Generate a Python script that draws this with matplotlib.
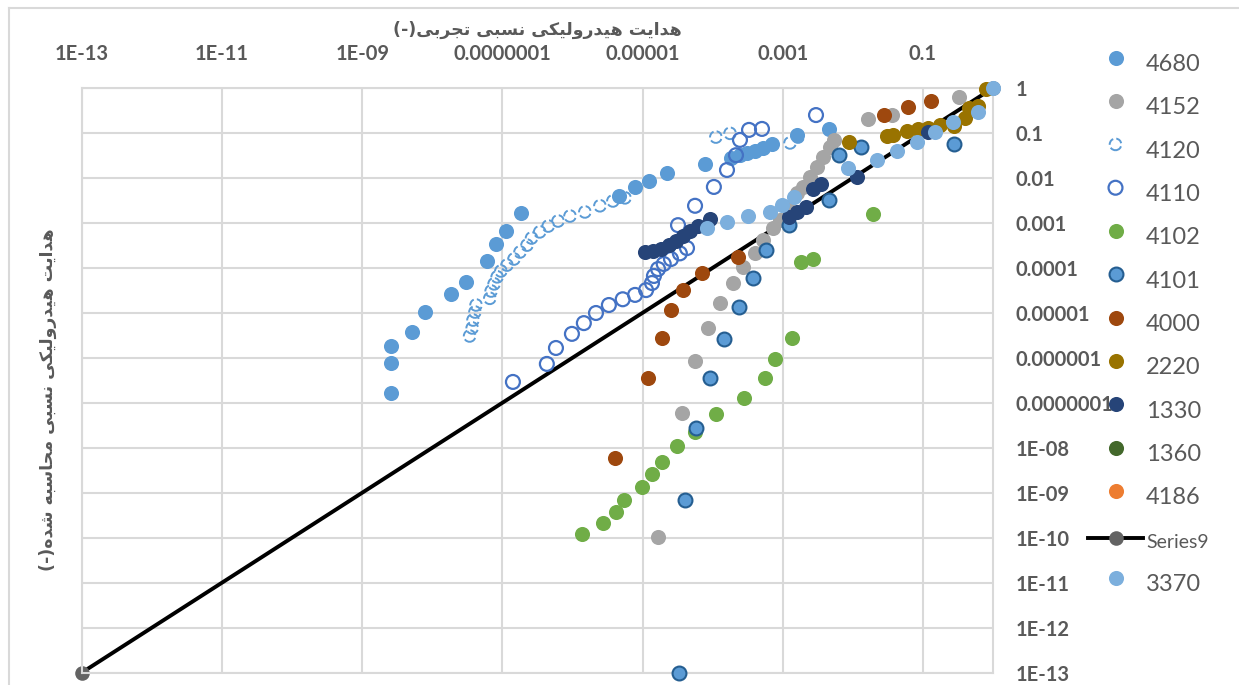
import matplotlib
matplotlib.use("Agg")
import matplotlib.pyplot as plt
from matplotlib.lines import Line2D

x_4680 = [2.6e-9, 2.6e-9, 2.6e-9, 5.1e-9, 7.85e-9, 1.84e-8, 3.0e-8, 6.0e-8, 8.1e-8, 1.12e-7, 1.84e-7,
          4.6e-6, 7.8e-6, 1.23e-5, 2.2e-5, 7.8e-5, 1.82e-4, 2.45e-4, 3.1e-4, 4.0e-4, 5.2e-4, 7.0e-4,
          1.6e-3, 4.6e-3]
y_4680 = [1.65e-7, 7.6e-7, 1.83e-6, 3.75e-6, 1.04e-5, 2.6e-5, 4.8e-5, 1.42e-4, 3.4e-4, 6.6e-4, 1.66e-3,
          3.96e-3, 6.3e-3, 8.5e-3, 1.28e-2, 2.04e-2, 2.8e-2, 3.2e-2, 3.6e-2, 4.0e-2, 4.6e-2, 5.7e-2,
          9.0e-2, 0.123]

x_4152 = [1.66e-5, 3.65e-5, 5.6e-5, 8.6e-5, 1.27e-4, 1.95e-4, 2.7e-4, 4.0e-4, 5.2e-4, 7.2e-4, 9.1e-4,
          1.15e-3, 1.6e-3, 1.94e-3, 2.44e-3, 3.1e-3, 3.75e-3, 4.7e-3, 5.4e-3, 1.64e-2, 3.6e-2, 0.327]
y_4152 = [1.03e-10, 5.9e-8, 8.5e-7, 4.6e-6, 1.65e-5, 4.6e-5, 1.04e-4, 2.1e-4, 4.15e-4, 7.7e-4, 1.16e-3,
          2.26e-3, 4.6e-3, 6.3e-3, 1.05e-2, 1.75e-2, 2.9e-2, 4.9e-2, 7.0e-2, 0.205, 0.25, 0.63]

x_4120 = [3.4e-8, 3.7e-8, 3.8e-8, 4.05e-8, 4.2e-8, 6.6e-8, 6.9e-8, 7.6e-8, 8.4e-8, 9.5e-8, 1.16e-7,
          1.46e-7, 1.78e-7, 2.24e-7, 2.6e-7, 3.4e-7, 4.5e-7, 6.2e-7, 9.2e-7, 1.5e-6, 2.46e-6, 3.77e-6,
          5.6e-6, 1.11e-4, 1.77e-4, 1.27e-3, 1.65e-3]
y_4120 = [3.05e-6, 4.6e-6, 6.9e-6, 1.04e-5, 1.49e-5, 2.1e-5, 3.05e-5, 4.4e-5, 6.3e-5, 8.5e-5, 1.15e-4,
          1.57e-4, 2.25e-4, 3.2e-4, 4.6e-4, 6.3e-4, 8.5e-4, 1.1e-3, 1.42e-3, 1.75e-3, 2.4e-3, 3.07e-3,
          3.6e-3, 8.1e-2, 9.8e-2, 6.0e-2, 8.1e-2]

x_4110 = [1.41e-7, 4.3e-7, 5.8e-7, 9.8e-7, 1.45e-6, 2.16e-6, 3.3e-6, 5.2e-6, 7.8e-6, 1.12e-5, 1.36e-5,
          1.45e-5, 1.66e-5, 2.0e-5, 2.54e-5, 3.4e-5, 4.3e-5, 3.2e-5, 5.6e-5, 1.04e-4, 1.6e-4, 2.15e-4,
          2.45e-4, 3.3e-4, 5.05e-4, 2.98e-3]
y_4110 = [2.9e-7, 7.3e-7, 1.65e-6, 3.4e-6, 5.9e-6, 9.9e-6, 1.49e-5, 2.0e-5, 2.5e-5, 3.2e-5, 4.6e-5,
          6.6e-5, 9.4e-5, 1.22e-4, 1.57e-4, 2.1e-4, 2.75e-4, 8.9e-4, 2.4e-3, 6.3e-3, 1.5e-2, 3.2e-2,
          7.0e-2, 0.117, 0.123, 0.25]

x_4102 = [1.36e-6, 2.7e-6, 4.2e-6, 5.4e-6, 9.8e-6, 1.36e-5, 1.9e-5, 3.1e-5, 5.6e-5, 1.11e-4, 2.8e-4,
          5.6e-4, 7.7e-4, 1.35e-3, 1.82e-3, 2.7e-3, 1.94e-2]
y_4102 = [1.2e-10, 2.1e-10, 3.7e-10, 6.9e-10, 1.33e-9, 2.6e-9, 4.8e-9, 1.09e-8, 2.2e-8, 5.6e-8, 1.27e-7,
          3.5e-7, 9.4e-7, 2.75e-6, 1.35e-4, 1.57e-4, 1.58e-3]

x_4101 = [3.3e-5, 4.0e-5, 5.8e-5, 9.2e-5, 1.45e-4, 2.37e-4, 3.76e-4, 5.8e-4, 1.22e-3, 4.6e-3, 6.3e-3,
          1.3e-2, 0.277]
y_4101 = [1.0e-13, 6.9e-10, 2.7e-8, 3.5e-7, 2.6e-6, 1.35e-5, 5.9e-5, 2.5e-4, 8.9e-4, 3.2e-3, 3.2e-2,
          4.9e-2, 5.7e-2]

x_4000 = [4.0e-6, 1.19e-5, 1.9e-5, 2.54e-5, 3.77e-5, 7.0e-5, 2.3e-4, 2.8e-2, 6.1e-2, 0.13]
y_4000 = [5.9e-9, 3.5e-7, 2.75e-6, 1.15e-5, 3.2e-5, 7.7e-5, 1.74e-4, 0.25, 0.38, 0.515]

x_2220 = [8.8e-3, 3.1e-2, 3.7e-2, 5.9e-2, 8.5e-2, 0.118, 0.175, 0.277, 0.4, 0.45, 0.61, 0.79]
y_2220 = [6.3e-2, 8.5e-2, 9.0e-2, 0.111, 0.123, 0.129, 0.151, 0.143, 0.216, 0.36, 0.4, 0.95]

x_1330 = [1.08e-5, 1.41e-5, 1.83e-5, 2.38e-5, 3.0e-5, 3.77e-5, 4.75e-5, 6.2e-5, 9.2e-5, 1.22e-3, 1.6e-3,
          2.14e-3, 2.7e-3, 3.5e-3, 1.15e-2, 0.118]
y_1330 = [2.25e-4, 2.37e-4, 2.6e-4, 3.2e-4, 3.95e-4, 5.1e-4, 6.6e-4, 8.5e-4, 1.22e-3, 1.35e-3, 1.75e-3,
          2.26e-3, 5.7e-3, 7.3e-3, 1.05e-2, 0.105]

# legend-only series (no visible points)
x_1360, y_1360 = [], []
x_4186, y_4186 = [], []

# 1:1 line
x_series9 = [1e-13, 1.0]
y_series9 = [1e-13, 1.0]

x_3370 = [8.3e-5, 1.6e-4, 3.2e-4, 6.6e-4, 9.8e-4, 1.45e-3, 8.5e-3, 2.2e-2, 4.3e-2, 8.2e-2, 0.148, 0.27,
          0.61, 1.0]
y_3370 = [7.7e-4, 1.05e-3, 1.42e-3, 1.75e-3, 2.5e-3, 3.8e-3, 1.66e-2, 2.5e-2, 4.0e-2, 6.3e-2, 0.105,
          0.176, 0.293, 1.0]

x_ticks = [1e-13, 1e-11, 1e-9, 1e-7, 1e-5, 1e-3, 1e-1]
x_ticklabels = ["1E-13", "1E-11", "1E-09", "0.0000001", "0.00001", "0.001", "0.1"]
y_ticks = [1e-13, 1e-12, 1e-11, 1e-10, 1e-9, 1e-8, 1e-7, 1e-6, 1e-5, 1e-4, 1e-3, 1e-2, 1e-1, 1]
y_ticklabels = ["1E-13", "1E-12", "1E-11", "1E-10", "1E-09", "1E-08", "0.0000001", "0.000001",
                "0.00001", "0.0001", "0.001", "0.01", "0.1", "1"]

title_top = "هدایت هیدرولیکی نسبی تجربی(-)"
title_left = "هدایت هیدرولیکی نسبی محاسبه شده(-)"

# ---- poor man's Arabic shaping (matplotlib has no shaping engine) ----
FORMS = {
    "\u0627": ("\uFE8D", "\uFE8E", None, None),
    "\u0628": ("\uFE8F", "\uFE90", "\uFE91", "\uFE92"),
    "\u062A": ("\uFE95", "\uFE96", "\uFE97", "\uFE98"),
    "\u062C": ("\uFE9D", "\uFE9E", "\uFE9F", "\uFEA0"),
    "\u062D": ("\uFEA1", "\uFEA2", "\uFEA3", "\uFEA4"),
    "\u062F": ("\uFEA9", "\uFEAA", None, None),
    "\u0631": ("\uFEAD", "\uFEAE", None, None),
    "\u0633": ("\uFEB1", "\uFEB2", "\uFEB3", "\uFEB4"),
    "\u0634": ("\uFEB5", "\uFEB6", "\uFEB7", "\uFEB8"),
    "\u0644": ("\uFEDD", "\uFEDE", "\uFEDF", "\uFEE0"),
    "\u0645": ("\uFEE1", "\uFEE2", "\uFEE3", "\uFEE4"),
    "\u0646": ("\uFEE5", "\uFEE6", "\uFEE7", "\uFEE8"),
    "\u0647": ("\uFEE9", "\uFEEA", "\uFEEB", "\uFEEC"),
    "\u0648": ("\uFEED", "\uFEEE", None, None),
    "\u06A9": ("\uFB8E", "\uFB8F", "\uFB90", "\uFB91"),
    "\u06CC": ("\uFBFC", "\uFBFD", "\uFBFE", "\uFBFF"),
}


def shape_rtl(text):
    text = text.replace("\u064A", "\u06CC").replace("\u0649", "\u06CC").replace("\u0643", "\u06A9")
    out = []
    for i, ch in enumerate(text):
        if ch not in FORMS:
            out.append(ch)
            continue
        prev = text[i - 1] if i > 0 else ""
        nxt = text[i + 1] if i + 1 < len(text) else ""
        join_prev = prev in FORMS and FORMS[prev][2] is not None
        join_next = FORMS[ch][2] is not None and nxt in FORMS
        iso, fin, ini, med = FORMS[ch]
        if join_prev and join_next:
            out.append(med)
        elif join_prev:
            out.append(fin)
        elif join_next:
            out.append(ini)
        else:
            out.append(iso)
    vis = "".join(reversed(out))
    return vis.translate(str.maketrans("()", ")("))


GRID = "#D9D9D9"
TXT = "#595959"
MS = 118

fig = plt.figure(figsize=(12.39, 6.85), dpi=100)
ax = fig.add_axes([82 / 1239, 1 - 672.5 / 685, 911 / 1239, 584.5 / 685])
ax.set_xscale("log")
ax.set_yscale("log")

h = []
h.append(ax.scatter(x_4680, y_4680, s=MS, color="#5B9BD5", linewidths=0, clip_on=False, zorder=3))
h.append(ax.scatter(x_4152, y_4152, s=MS, color="#A5A5A5", linewidths=0, clip_on=False, zorder=3))
h.append(ax.scatter(x_4120, y_4120, s=70, facecolors="none", edgecolors="#5B9BD5", linewidths=1.4,
                    linestyles="--", clip_on=False, zorder=3))
h.append(ax.scatter(x_4110, y_4110, s=100, facecolors="none", edgecolors="#4472C4", linewidths=1.6,
                    clip_on=False, zorder=3))
h.append(ax.scatter(x_4102, y_4102, s=MS, color="#70AD47", linewidths=0, clip_on=False, zorder=3))
h.append(ax.scatter(x_4101, y_4101, s=100, facecolors="#5B9BD5", edgecolors="#255E91", linewidths=1.5,
                    clip_on=False, zorder=3))
h.append(ax.scatter(x_4000, y_4000, s=MS, color="#9E480E", linewidths=0, clip_on=False, zorder=3))
h.append(ax.scatter(x_2220, y_2220, s=MS, color="#997300", linewidths=0, clip_on=False, zorder=3))
h.append(ax.scatter(x_1330, y_1330, s=MS, color="#264478", linewidths=0, clip_on=False, zorder=3))
h.append(ax.scatter(x_1360, y_1360, s=MS, color="#43682B", linewidths=0, clip_on=False, zorder=3))
h.append(ax.scatter(x_4186, y_4186, s=MS, color="#ED7D31", linewidths=0, clip_on=False, zorder=3))
line, = ax.plot(x_series9, y_series9, color="black", lw=2.8, marker="o", ms=10.5,
                markerfacecolor="#636363", markeredgewidth=0, clip_on=False, zorder=2.5)
h.append(line)
h.append(ax.scatter(x_3370, y_3370, s=MS, color="#7CAFDD", linewidths=0, clip_on=False, zorder=3))
labels = ["4680", "4152", "4120", "4110", "4102", "4101", "4000", "2220", "1330", "1360", "4186",
          "Series9", "3370"]

ax.set_xlim(1e-13, 1)
ax.set_ylim(1e-13, 1)
ax.xaxis.tick_top()
ax.yaxis.tick_right()
ax.set_xticks(x_ticks, x_ticklabels)
ax.set_yticks(y_ticks, y_ticklabels)
ax.minorticks_off()
ax.tick_params(length=0, labelcolor=TXT, labelsize=14.5)
ax.tick_params(axis="x", pad=17)
ax.tick_params(axis="y", pad=16)
for lab in ax.get_xticklabels() + ax.get_yticklabels():
    lab.set_fontfamily("Lato")
    lab.set_fontweight("bold")
ax.grid(True, color=GRID, lw=1.5)
ax.set_axisbelow(True)
for sp in ax.spines.values():
    sp.set_color(GRID)
    sp.set_linewidth(1.5)

# outer chart border (top and left edges visible in the crop)
fig.add_artist(Line2D([9 / 1239, 1], [1 - 7.5 / 685] * 2, color=GRID, lw=1.5))
fig.add_artist(Line2D([9 / 1239] * 2, [0, 1 - 7.5 / 685], color=GRID, lw=1.5))

fig.text(537 / 1239, 1 - 30 / 685, shape_rtl(title_top), ha="center", va="center",
         family="DejaVu Sans", weight="bold", fontsize=12.5, color=TXT)
fig.text(48 / 1239, 1 - 400 / 685, shape_rtl(title_left), ha="center", va="center", rotation=90,
         family="DejaVu Sans", weight="bold", fontsize=12.5, color=TXT)

leg = fig.legend(h, labels, loc="upper left", bbox_to_anchor=(1088 / 1239, 1 - 51 / 685),
                 frameon=False, prop={"family": "Lato", "size": 17}, labelcolor=TXT,
                 handlelength=2.33, handleheight=1.2, handletextpad=0.12, labelspacing=0.81,
                 borderpad=0, borderaxespad=0, scatteryoffsets=[0.55])
leg.get_texts()[11].set_fontsize(14)

fig.savefig("out.png", dpi=100)
